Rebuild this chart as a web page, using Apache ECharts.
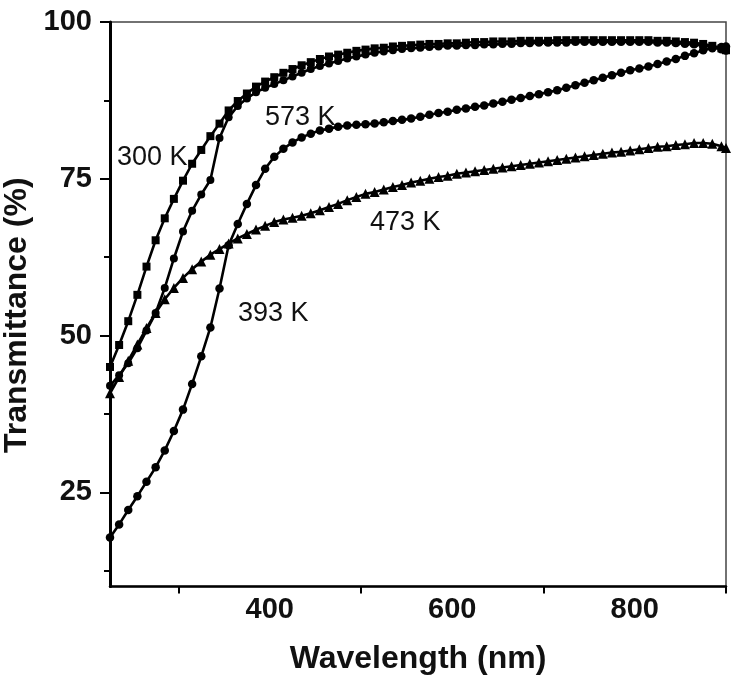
<!DOCTYPE html>
<html>
<head>
<meta charset="utf-8">
<script src="https://cdn.jsdelivr.net/npm/echarts@6/dist/echarts.min.js"></script>
<style>
html,body{margin:0;padding:0;background:#fff;}
#chart{width:735px;height:685px;}
</style>
</head>
<body>
<div id="chart"></div>
<script>
// Wavelength grid (nm)
var wavelengths = [225,235,245,255,265,275,285,295,305,315,325,335,345,355,365,375,385,395,405,415,425,435,445,455,465,475,485,495,505,515,525,535,545,555,565,575,585,595,605,615,625,635,645,655,665,675,685,695,705,715,725,735,745,755,765,775,785,795,805,815,825,835,845,855,865,875,885,895,900];

// Transmittance (%) for each temperature
var t300 = [45.0,48.5,52.3,56.5,61.0,65.2,68.7,71.8,74.7,77.4,79.6,81.8,83.8,85.9,87.4,88.6,89.7,90.5,91.2,91.9,92.5,93.1,93.6,94.1,94.5,94.8,95.1,95.4,95.6,95.8,95.9,96.1,96.2,96.3,96.4,96.5,96.5,96.6,96.6,96.7,96.8,96.8,96.9,96.9,96.9,97.0,97.0,97.0,97.0,97.1,97.1,97.1,97.1,97.1,97.1,97.1,97.1,97.1,97.1,97.1,97.0,97.0,96.9,96.8,96.7,96.5,96.2,95.8,95.5];
var t393 = [17.8,19.9,22.2,24.4,26.7,29.0,31.7,34.8,38.2,42.3,46.7,51.3,57.5,64.4,67.8,71.0,74.0,76.6,78.5,79.8,80.8,81.6,82.2,82.7,83.0,83.3,83.5,83.6,83.7,83.8,84.0,84.2,84.4,84.6,84.9,85.2,85.5,85.7,86.0,86.2,86.5,86.7,87.0,87.3,87.6,87.9,88.2,88.5,88.8,89.1,89.5,89.9,90.3,90.7,91.1,91.5,91.9,92.3,92.6,92.9,93.3,93.7,94.1,94.6,95.0,95.5,95.8,96.0,96.1];
var t473 = [40.8,43.4,46.0,48.6,51.2,53.6,55.8,57.6,59.2,60.6,61.8,62.9,63.8,64.7,65.5,66.2,66.9,67.5,68.1,68.5,68.8,69.1,69.5,70.0,70.5,71.0,71.6,72.1,72.6,72.9,73.3,73.7,74.0,74.4,74.7,75.0,75.3,75.5,75.8,76.0,76.2,76.4,76.6,76.8,77.0,77.2,77.4,77.6,77.8,78.0,78.2,78.4,78.6,78.8,79.0,79.2,79.3,79.5,79.7,79.9,80.1,80.2,80.4,80.5,80.7,80.7,80.6,80.2,79.9];
var t573 = [42.0,43.7,45.6,48.0,50.8,53.6,57.6,62.3,66.6,69.9,72.5,74.8,81.5,84.8,86.6,87.8,88.8,89.5,90.1,90.7,91.3,91.9,92.5,93.0,93.4,93.8,94.2,94.5,94.8,95.1,95.3,95.5,95.7,95.8,95.9,96.0,96.1,96.2,96.2,96.3,96.3,96.4,96.4,96.5,96.5,96.6,96.6,96.7,96.7,96.7,96.7,96.8,96.8,96.8,96.8,96.8,96.8,96.8,96.8,96.8,96.7,96.7,96.6,96.5,96.4,96.2,96.0,95.6,95.4];

// Axis ticks / labels
var xLabelValues = [400, 600, 800];
var xTickValues = [300, 500, 700, 900];
var yLabelValues = [25, 50, 75, 100];
var yMinorTickValues = [12.5, 37.5, 62.5, 87.5];

var seriesNames = ['300 K', '393 K', '473 K', '573 K'];
var seriesValues = [t300, t393, t473, t573];
var seriesSymbols = ['rect', 'circle', 'triangle', 'circle'];
var seriesSymbolSizes = [8, 8.5, 10, 8];

function pairs(vals) {
  return wavelengths.map(function (w, i) { return [w, vals[i]]; });
}

var FONT = '"Liberation Sans", Arial, sans-serif';

var chart = echarts.init(document.getElementById('chart'), null, {renderer: 'canvas'});

var series = seriesNames.map(function (n, i) {
  return {
    name: n,
    type: 'line',
    data: pairs(seriesValues[i]),
    xAxisIndex: 0,
    yAxisIndex: 0,
    symbol: seriesSymbols[i],
    symbolSize: seriesSymbolSizes[i],
    showAllSymbol: true,
    smooth: false,
    lineStyle: {color: '#000', width: 2.6},
    itemStyle: {color: '#000', borderColor: '#000', borderWidth: 0},
    emphasis: {disabled: true},
    animation: false
  };
});

var option = {
  animation: false,
  backgroundColor: '#fff',
  grid: {
    left: 110, top: 22, right: 9, bottom: 98.5,
    containLabel: false,
    outerBoundsMode: 'none',
    show: true,
    borderColor: '#444',
    borderWidth: 1.5,
    backgroundColor: 'transparent'
  },
  xAxis: [{
    type: 'value',
    min: 225, max: 900,
    name: 'Wavelength (nm)',
    nameLocation: 'middle',
    nameGap: 57,
    nameTextStyle: {fontFamily: FONT, fontSize: 32, fontWeight: 'bold', color: '#111'},
    axisLine: {show: true, onZero: false, lineStyle: {color: '#000', width: 2.5}},
    axisTick: {show: true, inside: false, length: 7, customValues: xTickValues, lineStyle: {color: '#000', width: 2}},
    axisLabel: {show: true, customValues: xLabelValues, margin: 9, fontFamily: FONT, fontSize: 29, fontWeight: 'bold', color: '#111'},
    splitLine: {show: false},
    minorTick: {show: false}
  }],
  yAxis: [{
    type: 'value',
    min: 10, max: 100,
    position: 'left',
    name: 'Transmittance (%)',
    nameLocation: 'middle',
    nameGap: 69,
    nameRotate: 90,
    nameTextStyle: {fontFamily: FONT, fontSize: 32, fontWeight: 'bold', color: '#111', padding: [0, 22, 0, 0]},
    axisLine: {show: true, onZero: false, lineStyle: {color: '#000', width: 3}},
    axisTick: {show: true, inside: false, length: 10, customValues: yLabelValues, lineStyle: {color: '#000', width: 2}},
    axisLabel: {show: true, customValues: yLabelValues, margin: 18, fontFamily: FONT, fontSize: 29, fontWeight: 'bold', color: '#111'},
    splitLine: {show: false}
  }, {
    type: 'value',
    min: 10, max: 100,
    position: 'left',
    axisLine: {show: false},
    axisTick: {show: true, inside: false, length: 6, customValues: yMinorTickValues, lineStyle: {color: '#000', width: 2}},
    axisLabel: {show: false},
    splitLine: {show: false}
  }],
  graphic: [
    {type: 'text', left: 117, top: 144, style: {text: '300 K', font: '27px ' + FONT, fill: '#111'}},
    {type: 'text', left: 265, top: 104, style: {text: '573 K', font: '27px ' + FONT, fill: '#111'}},
    {type: 'text', left: 238, top: 300, style: {text: '393 K', font: '27px ' + FONT, fill: '#111'}},
    {type: 'text', left: 370, top: 209, style: {text: '473 K', font: '27px ' + FONT, fill: '#111'}}
  ],
  series: series
};

chart.setOption(option);
</script>
</body>
</html>
